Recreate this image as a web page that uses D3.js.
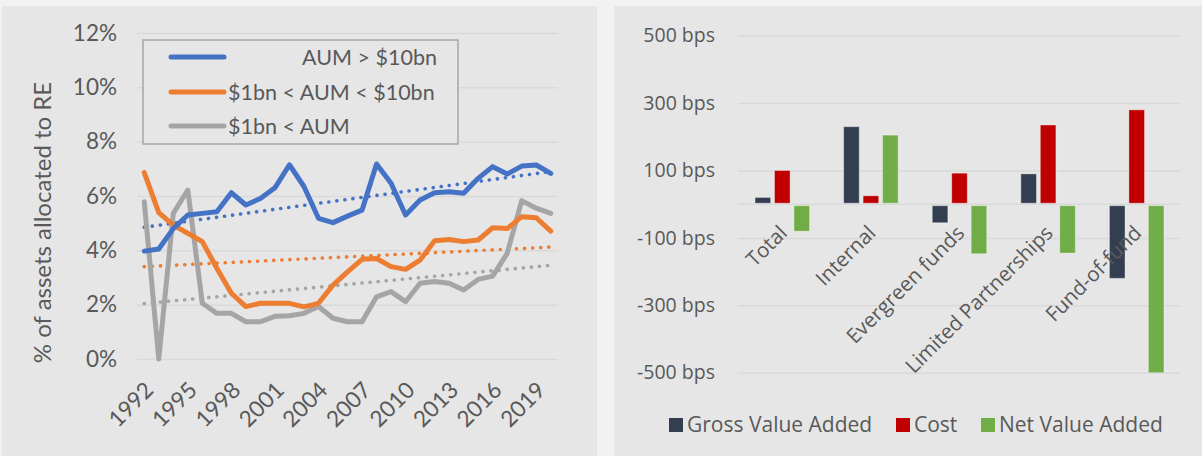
<!DOCTYPE html>
<html><head><meta charset="utf-8">
<script src="https://cdn.jsdelivr.net/npm/d3@7"></script>
<style>body{margin:0;background:#f2f2f2;} svg{display:block}</style>
</head><body>
<svg id="c" width="1202" height="456"></svg>
<script>
// ---------- Left chart data ----------
const years = [1992,1993,1994,1995,1996,1997,1998,1999,2000,2001,2002,2003,2004,2005,2006,2007,2008,2009,2010,2011,2012,2013,2014,2015,2016,2017,2018,2019,2020];
const yearTicks = [1992,1995,1998,2001,2004,2007,2010,2013,2016,2019];
const seriesNames = ["AUM > $10bn", "$1bn < AUM < $10bn", "$1bn < AUM"];
const aumLarge = [3.97,4.05,4.80,5.30,5.36,5.42,6.12,5.67,5.91,6.30,7.15,6.35,5.18,5.02,5.26,5.48,7.18,6.47,5.30,5.85,6.12,6.16,6.10,6.65,7.08,6.81,7.10,7.14,6.83];
const aumMid   = [6.86,5.39,4.93,4.63,4.32,3.34,2.42,1.93,2.05,2.05,2.05,1.92,2.05,2.72,3.21,3.67,3.70,3.40,3.30,3.64,4.35,4.40,4.32,4.38,4.83,4.80,5.24,5.20,4.71];
const aumSmall = [5.79,0.00,5.36,6.22,2.05,1.68,1.68,1.37,1.37,1.57,1.59,1.68,1.93,1.50,1.37,1.37,2.29,2.48,2.11,2.79,2.85,2.79,2.54,2.93,3.05,3.89,5.83,5.55,5.36];
const trendStart = [4.85, 3.40, 2.04];
const trendEnd   = [6.90, 4.12, 3.45];
const pctTicks = [0,2,4,6,8,10,12];
const leftTitle = "% of assets allocated to RE";

// ---------- Right chart data ----------
const categories = ["Total","Internal","Evergreen funds","Limited Partnerships","Fund-of-fund"];
const barSeries = ["Gross Value Added","Cost","Net Value Added"];
const grossVA = [20, 230, -55, 90, -220];
const costVA  = [100, 25, 92, 235, 280];
const netVA   = [-80, 205, -147, -145, -500];
const bpsTicks = [-500,-300,-100,100,300,500];

const svg = d3.select("#c");
const txt = "#595959", grid = "#d9d9d9";

// panels
svg.append("rect").attr("x",0).attr("y",0).attr("width",1202).attr("height",456).attr("fill","#f2f2f2");
svg.append("rect").attr("x",2).attr("y",6).attr("width",595).attr("height",450).attr("fill","#e6e6e6");
svg.append("rect").attr("x",614).attr("y",6).attr("width",588).attr("height",450).attr("fill","#e6e6e6");

// ================= LEFT =================
const L = svg.append("g").style("font-family","Lato, 'Open Sans', sans-serif");
const xL = d3.scaleBand().domain(years).range([137,558]);
const xc = d => xL(d) + xL.bandwidth()/2;
const yL = d3.scaleLinear().domain([0,12]).range([359,33]);

const yAxL = L.append("g").attr("transform","translate(137,0)")
  .call(d3.axisLeft(yL).tickValues(pctTicks).tickFormat(d=>d+"%").tickSize(-421).tickPadding(20));
yAxL.select(".domain").remove();
yAxL.selectAll("line").attr("stroke",grid).attr("stroke-width",1.5);
yAxL.selectAll("text").attr("fill",txt).style("font-size","22.5px").style("font-family","Lato");

const xAxL = L.append("g").attr("transform","translate(0,359)")
  .call(d3.axisBottom(xL).tickValues(yearTicks).tickSize(0).tickFormat(d=>d));
xAxL.select(".domain").remove();
xAxL.selectAll("text").attr("fill",txt).style("font-size","22.5px").style("font-family","Lato")
  .attr("text-anchor","end").attr("transform","translate(5,27) rotate(-45)").attr("dy","0.35em").attr("y",0).attr("x",0);

L.append("text").attr("transform","translate(51,222.5) rotate(-90)").attr("text-anchor","middle")
  .attr("fill",txt).style("font-size","24px").text(leftTitle);

const colorsL = ["#4472c4","#ed7d31","#a5a5a5"];
const dataL = [aumLarge, aumMid, aumSmall];
const line = d3.line().x((d,i)=>xc(years[i])).y(d=>yL(d));

// trendlines
dataL.forEach((s,k)=>{
  L.append("line").attr("x1",xc(years[0])).attr("x2",xc(years[years.length-1]))
   .attr("y1",yL(trendStart[k])).attr("y2",yL(trendEnd[k]))
   .attr("stroke",colorsL[k]).attr("stroke-width",3.6).attr("stroke-linecap","round")
   .attr("stroke-dasharray","0.1 8");
});
// lines
[2,1,0].forEach(k=>{
  L.append("path").datum(dataL[k]).attr("d",line).attr("fill","none")
   .attr("stroke",colorsL[k]).attr("stroke-width",5).attr("stroke-linejoin","round").attr("stroke-linecap","round");
});

// legend
const lg = L.append("g");
lg.append("rect").attr("x",143).attr("y",40).attr("width",315).attr("height",104)
  .attr("fill","#e6e6e6").attr("stroke","#a6a6a6").attr("stroke-width",1.5);
seriesNames.forEach((n,i)=>{
  const yy = [57,92,126][i];
  lg.append("line").attr("x1",171).attr("x2",224).attr("y1",yy).attr("y2",yy)
    .attr("stroke",colorsL[i]).attr("stroke-width",5).attr("stroke-linecap","round");
  const t = lg.append("text").attr("y",yy).attr("dy","0.35em").attr("fill",txt).style("font-size","21.5px").text(n);
  if(i===0) t.attr("x",437).attr("text-anchor","end"); else t.attr("x",228);
});

// ================= RIGHT =================
const R = svg.append("g").style("font-family","'Open Sans', sans-serif");
const x0 = d3.scaleBand().domain(categories).range([738,1181]);
const yR = d3.scaleLinear().domain([-500,500]).range([372.7,35.7]);
const groupW = x0.bandwidth()*0.615;
const x1 = d3.scaleBand().domain(barSeries).range([0,groupW]).paddingInner(0.2);

const yAxR = R.append("g").attr("transform","translate(738,0)")
  .call(d3.axisLeft(yR).tickValues(bpsTicks).tickFormat(d=>d+" bps").tickSize(-443).tickPadding(23));
yAxR.select(".domain").remove();
yAxR.selectAll("line").attr("stroke",grid).attr("stroke-width",1.5);
yAxR.selectAll("text").attr("fill",txt).style("font-size","19.5px").style("font-family","'Open Sans'");
R.append("line").attr("x1",738).attr("x2",1181).attr("y1",yR(0)).attr("y2",yR(0)).attr("stroke",grid).attr("stroke-width",1.5);

const colorsR = ["#333f50","#c00000","#70ad47"];
const dataR = [grossVA, costVA, netVA];
categories.forEach((c,ci)=>{
  const gx = x0(c) + (x0.bandwidth()-groupW)/2;
  barSeries.forEach((s,si)=>{
    const v = dataR[si][ci];
    R.append("rect").attr("x",gx + x1(s)).attr("width",x1.bandwidth())
     .attr("y", v>=0 ? yR(v) : yR(0)+1.5).attr("height", Math.abs(yR(v)-yR(0)) - (v>=0?1:1.5))
     .attr("fill",colorsR[si]).attr("stroke","rgba(255,255,255,0.35)").attr("stroke-width",1);
  });
});

const xAxR = R.append("g").attr("transform","translate(0,"+yR(0)+")")
  .call(d3.axisBottom(x0).tickSize(0));
xAxR.select(".domain").remove();
xAxR.selectAll("text").attr("fill",txt).style("font-size","20.5px").style("font-family","'Open Sans'")
  .attr("text-anchor","end").attr("transform","translate(1,25) rotate(-45)").attr("dy","0.35em").attr("y",0).attr("x",0);

// legend
const lgR = R.append("g");
const legX = [669, 896, 981];
barSeries.forEach((s,i)=>{
  lgR.append("rect").attr("x",legX[i]).attr("y",418).attr("width",14).attr("height",14).attr("fill",colorsR[i]);
  lgR.append("text").attr("x",legX[i]+18).attr("y",425).attr("dy","0.35em").attr("fill",txt)
    .style("font-size","21px").text(s);
});
</script>
</body></html>
